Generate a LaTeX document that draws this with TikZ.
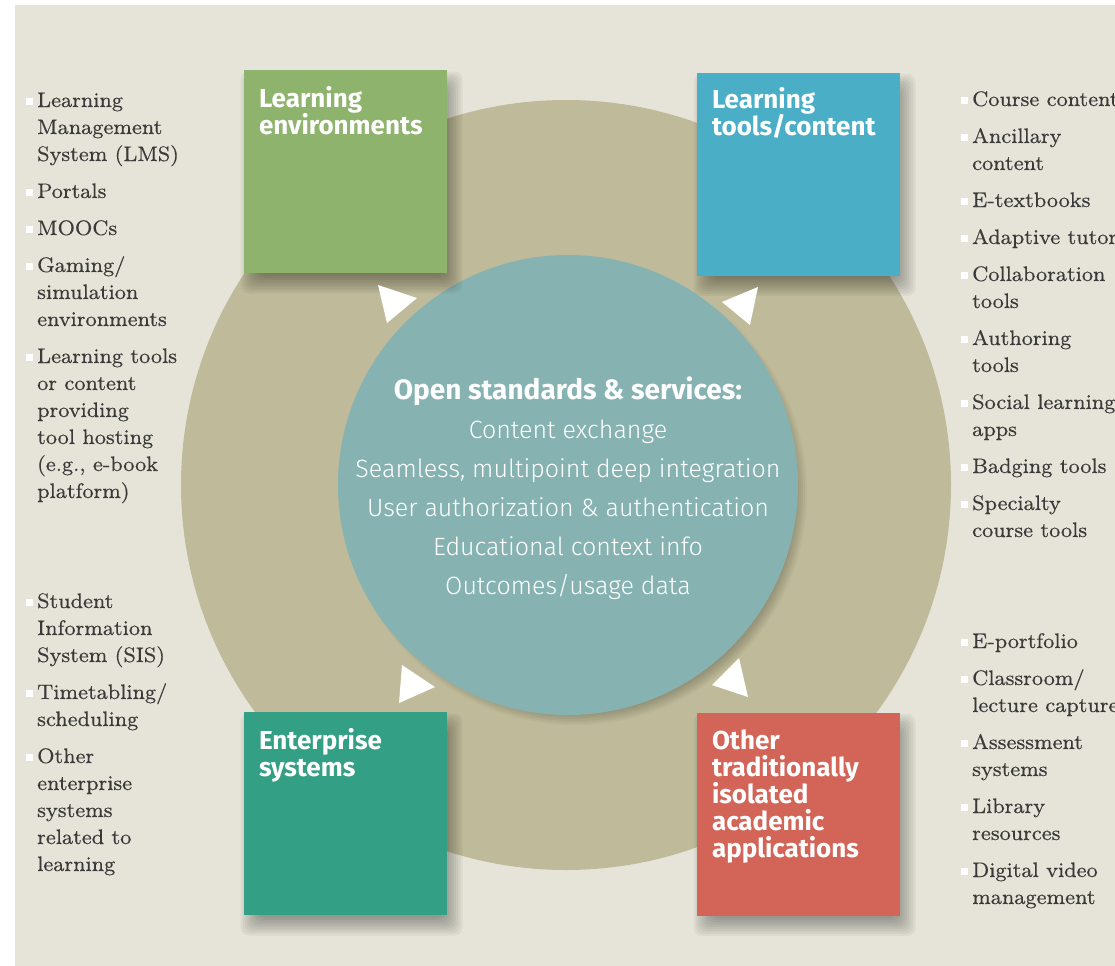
\documentclass[tikz,border=0pt]{standalone}
\usepackage{fontspec}
\usepackage{enumitem}
\usepackage{tikz}
\usetikzlibrary{shapes, arrows, positioning, shadows}
\setsansfont{Fira Sans}
\newfontfamily\lightsans{Fira Sans Light}
\newfontfamily\listfont{lmroman8-regular.otf}[FakeBold=0.35]
\definecolor{paper}{HTML}{E6E4D8}
\definecolor{olive}{HTML}{BFBB9A}
\definecolor{hubteal}{HTML}{86B3B2}
\definecolor{envgreen}{HTML}{8DB36C}
\definecolor{toolblue}{HTML}{4AAEC7}
\definecolor{entgreen}{HTML}{339F85}
\definecolor{appred}{HTML}{D26558}
\definecolor{listgray}{HTML}{3A3A3A}
\newcommand{\sqbullet}{\textcolor{white}{\rule[2bp]{7bp}{7bp}}}
\setlist[itemize]{label=\sqbullet, leftmargin=11bp, labelwidth=7bp, labelsep=4bp, itemsep=10bp, parsep=0pt, topsep=0pt, partopsep=0pt}
\tikzstyle{shadelayer} = [fill=black, opacity=.045]
\tikzstyle{tile} = [rectangle, minimum size=203bp, inner sep=0pt]
\tikzstyle{tiletitle} = [anchor=north west, inner sep=0pt, text=white, align=left, font=\sffamily\bfseries\fontsize{26bp}{27bp}\selectfont]
\tikzstyle{sidelist} = [anchor=base west, inner sep=0pt, text=listgray, font=\listfont\fontsize{21bp}{27bp}\selectfont]
\tikzstyle{arrowtip} = [fill=white]

\begin{document}
\begin{tikzpicture}[x=1bp, y=-1bp]
	\clip (0,0) rectangle (1115,966);
	\fill[white] (0,0) rectangle (1115,966);
	\fill[paper] (15,5) rectangle (1115,966);
	\fill[olive] (566,485) circle (385);
	% soft shadows
	\foreach \k in {0,...,8}
		\fill[shadelayer, opacity=.035] (575,493) circle ({232-2*\k});
	\node[circle, fill=hubteal, minimum size=460bp, inner sep=0pt] (hub) at (568,485) {};
	\node[text=white, align=center, font=\lightsans\fontsize{25bp}{39bp}\selectfont] (hubtext) at ([yshift=-3bp]hub.center) {%
		{\sffamily\bfseries\fontsize{28bp}{39bp}\selectfont Open standards \& services:}\\
		Content exchange\\
		Seamless, multipoint deep integration\\
		User authorization \& authentication\\
		Educational context info\\
		Outcomes/usage data};

	\foreach \cx/\cy in {345.5/171.5, 798.5/174, 345.5/813.5, 798.5/814}
		\foreach \k in {0,...,8}
			\fill[shadelayer, rounded corners=8bp] ({\cx+6-111+2.25*\k}, {\cy+11-111+2.25*\k}) rectangle ({\cx+6+111-2.25*\k}, {\cy+11+111-2.25*\k});
	\node[tile, fill=envgreen] (lenv) at (345.5,171.5) {};
	\node[tile, fill=toolblue] (ltool) at (798.5,174) {};
	\node[tile, fill=entgreen] (esys) at (345.5,813.5) {};
	\node[tile, fill=appred] (oapp) at (798.5,814) {};
	\node[tiletitle] at ([xshift=15bp, yshift=-16bp]lenv.north west) {Learning\\environments};
	\node[tiletitle] at ([xshift=15bp, yshift=-15bp]ltool.north west) {Learning\\tools/content};
	\node[tiletitle] at ([xshift=15bp, yshift=-16bp]esys.north west) {Enterprise\\systems};
	\node[tiletitle] at ([xshift=15bp, yshift=-17bp]oapp.north west) {Other\\traditionally\\isolated\\academic\\applications};

	\fill[arrowtip] (378,285) -- (417,298) -- (387,323) -- cycle;
	\fill[arrowtip] (758,287) -- (722,302) -- (750,325) -- cycle;
	\fill[arrowtip] (402,665) -- (435,687) -- (399,703) -- cycle;
	\fill[arrowtip] (739,658) -- (712,685) -- (748,697) -- cycle;

	\node[sidelist] (envlist) at (26,107) {%
		\begin{minipage}[t]{200bp}\raggedright
			\begin{itemize}
				\item Learning\\Management\\System (LMS)
				\item Portals
				\item MOOCs
				\item Gaming/\\simulation\\environments
				\item Learning tools\\or content\\providing\\tool hosting\\(e.g., e-book\\platform)
			\end{itemize}
		\end{minipage}};
	\node[sidelist] (entlist) at (26,608) {%
		\begin{minipage}[t]{200bp}\raggedright
			\begin{itemize}
				\item Student\\Information\\System (SIS)
				\item Timetabling/\\scheduling
				\item Other\\enterprise\\systems\\related to\\learning
			\end{itemize}
		\end{minipage}};
	\node[sidelist] (toollist) at (961,106) {%
		\begin{minipage}[t]{200bp}\raggedright
			\begin{itemize}
				\item Course content
				\item Ancillary\\content
				\item E-textbooks
				\item Adaptive tutors
				\item Collaboration\\tools
				\item Authoring\\tools
				\item Social learning\\apps
				\item Badging tools
				\item Specialty\\course tools
			\end{itemize}
		\end{minipage}};
	\node[sidelist] (applist) at (961,648) {%
		\begin{minipage}[t]{200bp}\raggedright
			\begin{itemize}
				\item E-portfolio
				\item Classroom/\\lecture capture
				\item Assessment\\systems
				\item Library\\resources
				\item Digital video\\management
			\end{itemize}
		\end{minipage}};
\end{tikzpicture}
\end{document}
